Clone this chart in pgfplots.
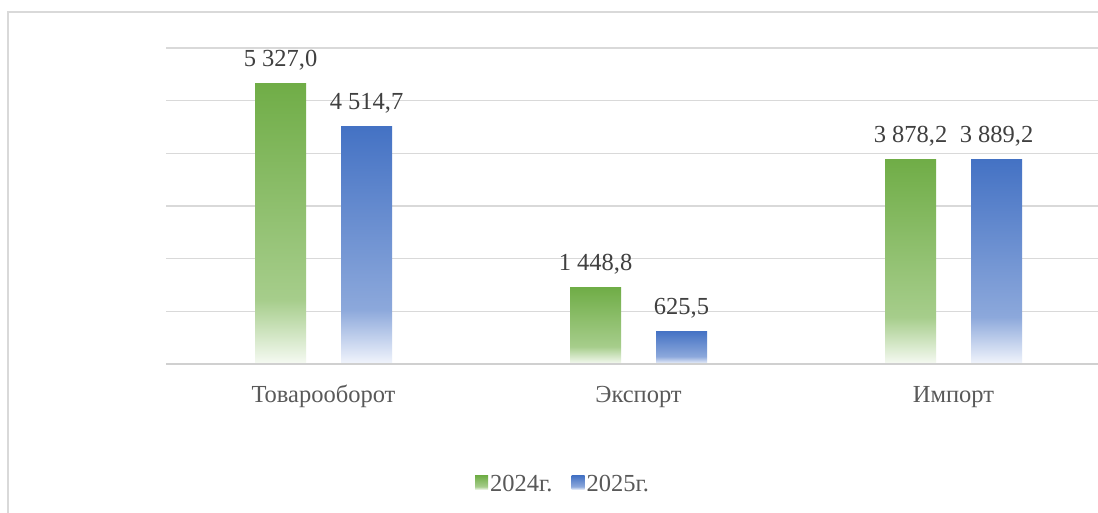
\documentclass[border=0pt]{standalone}
\usepackage{fontspec}
\setmainfont{Liberation Serif}
\usepackage{pgfplots}
\pgfplotsset{compat=1.18}
\definecolor{gT}{HTML}{70AD47}
\definecolor{gM}{HTML}{A6CD8B}
\definecolor{gB}{HTML}{F6FAF3}
\definecolor{bT}{HTML}{4472C4}
\definecolor{bM}{HTML}{8CA8DB}
\definecolor{bB}{HTML}{F2F5FC}
\definecolor{gridc}{HTML}{D9D9D9}
\definecolor{basec}{HTML}{D0D0D0}
\definecolor{txt}{HTML}{595959}
\definecolor{lbl}{HTML}{404040}
\pgfdeclareverticalshading{greenbar}{100bp}{color(0bp)=(gB); color(25bp)=(gB); color(36.5bp)=(gM); color(75bp)=(gT); color(100bp)=(gT)}
\pgfdeclareverticalshading{bluebar}{100bp}{color(0bp)=(bB); color(25bp)=(bB); color(36.5bp)=(bM); color(75bp)=(bT); color(100bp)=(bT)}
\newcommand{\bigf}{\fontsize{24.5bp}{28bp}\selectfont}
\pgfplotsset{
  gbar/.style={draw=none, shade, shading=greenbar, bar shift=-43bp,
    legend image code/.code={\shade[shading=greenbar] (0bp,-6bp) rectangle (13bp,8bp);}},
  bbar/.style={draw=none, shade, shading=bluebar, bar shift=43bp,
    legend image code/.code={\shade[shading=bluebar] (0bp,-6bp) rectangle (13bp,8bp);}},
}
\begin{document}
\begin{tikzpicture}
\useasboundingbox (-166bp,-149bp) rectangle (932bp,364bp);
\clip (-166bp,-149bp) rectangle (932bp,364bp);
\fill[white] (-166bp,-149bp) rectangle (932bp,364bp);
\draw[gridc, line width=1.5bp] (-158bp,-200bp) -- (-158bp,352bp) -- (1000bp,352bp);
\begin{axis}[
  at={(0,0)}, anchor=south west,
  scale only axis, width=932bp, height=316bp,
  xmin=-0.5, xmax=2.4587, ymin=0, ymax=6000,
  ytick={0,1000,...,6000},
  yticklabel style={opacity=0},
  ymajorgrids, grid style={gridc, line width=1.3bp},
  xtick={0,1,2}, xticklabels={Товарооборот,Экспорт,Импорт},
  major tick length=0pt,
  axis line style={draw=none},
  xticklabel style={anchor=base, yshift=-38bp, font=\bigf, text=txt},
  ybar, bar width=51bp,
  nodes near coords, point meta=explicit symbolic,
  every node near coord/.append style={anchor=base, yshift=17bp, font=\bigf, text=lbl},
  legend columns=2,
  legend style={at={(0.426,-0.379)}, anchor=center, draw=none, fill=none,
    font=\bigf, text=txt,
    /tikz/every even column/.append style={column sep=17bp}},
]
\addplot[gbar] coordinates {(0,5327.0) [5 327,0]};
\addplot[bbar] coordinates {(0,4514.7) [4 514,7]};
\addplot[gbar, forget plot] coordinates {(1,1448.8) [1 448,8]};
\addplot[gbar, forget plot] coordinates {(2,3878.2) [3 878,2]};
\addplot[bbar, forget plot] coordinates {(1,625.5) [625,5]};
\addplot[bbar, forget plot] coordinates {(2,3889.2) [3 889,2]};
\legend{2024г.,2025г.}
\draw[basec, line width=2bp] (rel axis cs:0,0) -- (rel axis cs:1,0);
\end{axis}
\end{tikzpicture}
\end{document}
